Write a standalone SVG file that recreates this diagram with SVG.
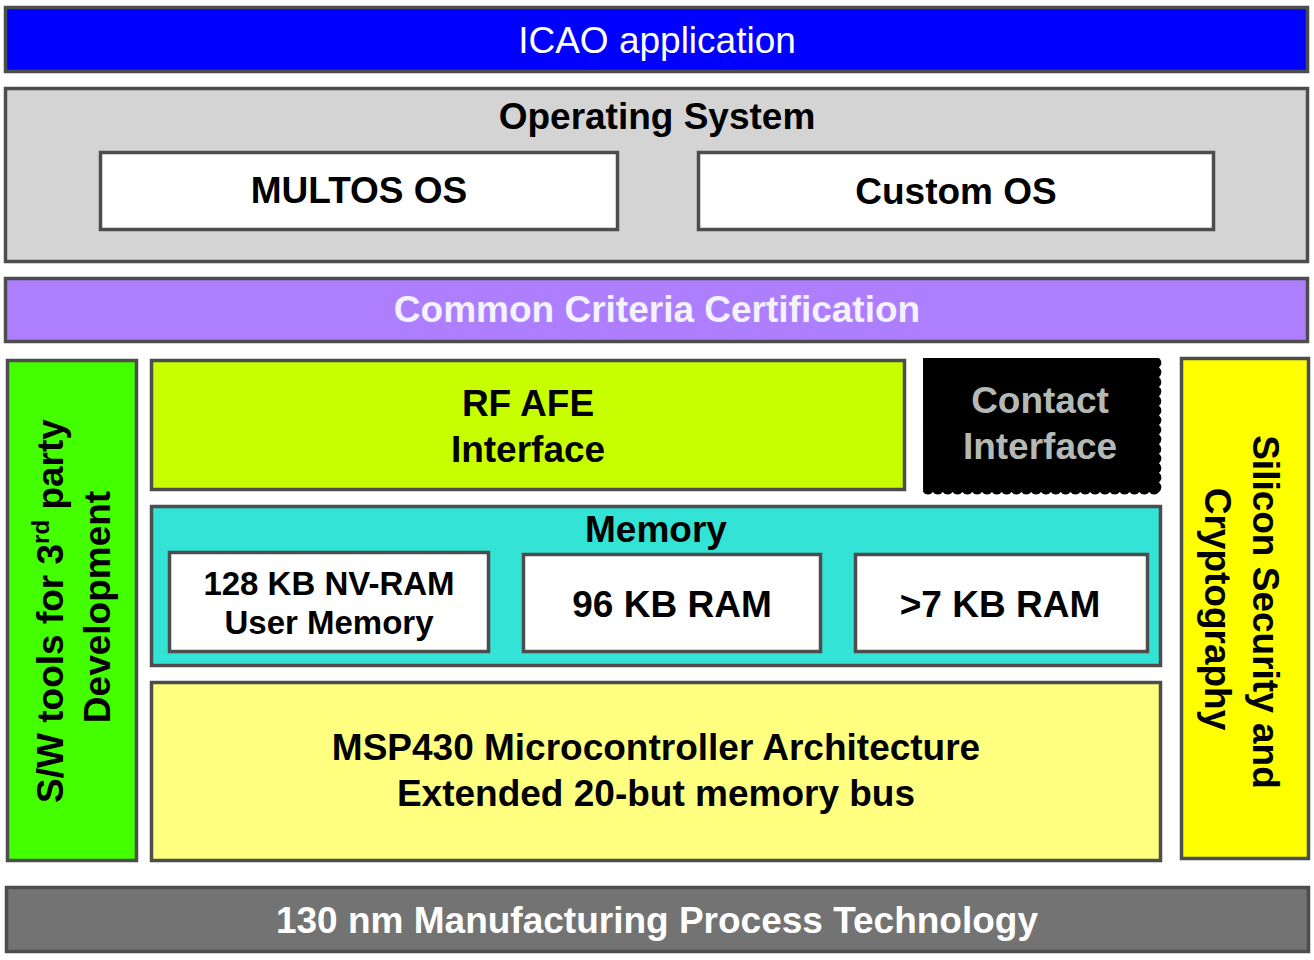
<svg xmlns="http://www.w3.org/2000/svg" width="1314" height="960" viewBox="0 0 1314 960">
<style>
.box{stroke:#4d4d4d;stroke-width:3.5}
.t{font-family:"Liberation Sans",Arial,Helvetica,sans-serif;font-weight:bold;font-size:37px;text-anchor:middle;fill:#000}
.reg{font-weight:normal}
.w{fill:#ffffff}
.grey{fill:#b5b9b5}
.lav{fill:#f4f2ff}
.sm{font-size:33px}
</style>
<rect width="1314" height="960" fill="#ffffff"/>
<g id="icao">
<rect class="box" x="5.5" y="7.5" width="1302" height="64" fill="#0000ff"/>
<text class="t reg w" x="657" y="53">ICAO application</text>
</g>
<g id="os">
<rect class="box" x="5.5" y="88.5" width="1302" height="173" fill="#d4d4d4"/>
<text class="t" x="657" y="129">Operating System</text>
</g>
<g id="multos">
<rect class="box" x="100.5" y="152.5" width="517" height="77" fill="#ffffff"/>
<text class="t" x="359" y="203">MULTOS OS</text>
</g>
<g id="custom">
<rect class="box" x="698.5" y="152.5" width="515" height="77" fill="#ffffff"/>
<text class="t" x="956" y="204">Custom OS</text>
</g>
<g id="cc">
<rect class="box" x="5.5" y="278.5" width="1302" height="63" fill="#ad7fff"/>
<text class="t lav" x="657" y="322">Common Criteria Certification</text>
</g>
<g id="swtools">
<rect class="box" x="7.5" y="360.5" width="129" height="500" fill="#44ff00"/>
<text class="t" transform="translate(63,611) rotate(-90)">S/W tools for 3<tspan style="font-size:24px" dy="-14">rd</tspan><tspan dy="14"> party</tspan></text>
<text class="t" transform="translate(110,607) rotate(-90)">Development</text>
</g>
<g id="rfafe">
<rect class="box" x="151.5" y="360.5" width="753" height="129" fill="#c8ff00"/>
<text class="t" x="528" y="416">RF AFE</text>
<text class="t" x="528" y="462">Interface</text>
</g>
<g id="contact">
<path fill="#000000" d="M923,358 H1159 a6 6 0 0 1 0 9.57 a6 6 0 0 1 0 9.57 a6 6 0 0 1 0 9.57 a6 6 0 0 1 0 9.57 a6 6 0 0 1 0 9.57 a6 6 0 0 1 0 9.57 a6 6 0 0 1 0 9.57 a6 6 0 0 1 0 9.57 a6 6 0 0 1 0 9.57 a6 6 0 0 1 0 9.57 a6 6 0 0 1 0 9.57 a6 6 0 0 1 0 9.57 a6 6 0 0 1 0 9.57 a6 6 0 0 1 0 9.57 a6 6 0 0 1 -9.83 0 a6 6 0 0 1 -9.83 0 a6 6 0 0 1 -9.83 0 a6 6 0 0 1 -9.83 0 a6 6 0 0 1 -9.83 0 a6 6 0 0 1 -9.83 0 a6 6 0 0 1 -9.83 0 a6 6 0 0 1 -9.83 0 a6 6 0 0 1 -9.83 0 a6 6 0 0 1 -9.83 0 a6 6 0 0 1 -9.83 0 a6 6 0 0 1 -9.83 0 a6 6 0 0 1 -9.83 0 a6 6 0 0 1 -9.83 0 a6 6 0 0 1 -9.83 0 a6 6 0 0 1 -9.83 0 a6 6 0 0 1 -9.83 0 a6 6 0 0 1 -9.83 0 a6 6 0 0 1 -9.83 0 a6 6 0 0 1 -9.83 0 a6 6 0 0 1 -9.83 0 a6 6 0 0 1 -9.83 0 a6 6 0 0 1 -9.83 0 a6 6 0 0 1 -9.83 0 Z"/>
<text class="t grey" x="1040" y="413">Contact</text>
<text class="t grey" x="1040" y="459">Interface</text>
</g>
<g id="silicon">
<rect class="box" x="1181.5" y="358.5" width="127" height="500" fill="#ffff00"/>
<text class="t" transform="translate(1253,612) rotate(90)">Silicon Security and</text>
<text class="t" transform="translate(1205,609) rotate(90)">Cryptography</text>
</g>
<g id="memory">
<rect class="box" x="151.5" y="506.5" width="1009" height="159" fill="#33e3d5"/>
<text class="t" x="656" y="542">Memory</text>
</g>
<g id="nvram">
<rect class="box" x="169.5" y="552.5" width="319" height="99" fill="#ffffff"/>
<text class="t sm" x="329" y="595">128 KB NV-RAM</text>
<text class="t sm" x="329" y="634">User Memory</text>
</g>
<g id="ram96">
<rect class="box" x="523.5" y="554.5" width="297" height="97" fill="#ffffff"/>
<text class="t" x="672" y="617">96 KB RAM</text>
</g>
<g id="ram7">
<rect class="box" x="855.5" y="554.5" width="292" height="97" fill="#ffffff"/>
<text class="t" x="1000" y="617">&gt;7 KB RAM</text>
</g>
<g id="msp430">
<rect class="box" x="151.5" y="682.5" width="1009" height="178" fill="#ffff80"/>
<text class="t" x="656" y="760">MSP430 Microcontroller Architecture</text>
<text class="t" x="656" y="806">Extended 20-but memory bus</text>
</g>
<g id="process">
<rect class="box" x="6.5" y="887.5" width="1302" height="64" fill="#737373"/>
<text class="t w" x="657" y="933">130 nm Manufacturing Process Technology</text>
</g>
<g id="connectors"></g>
</svg>
